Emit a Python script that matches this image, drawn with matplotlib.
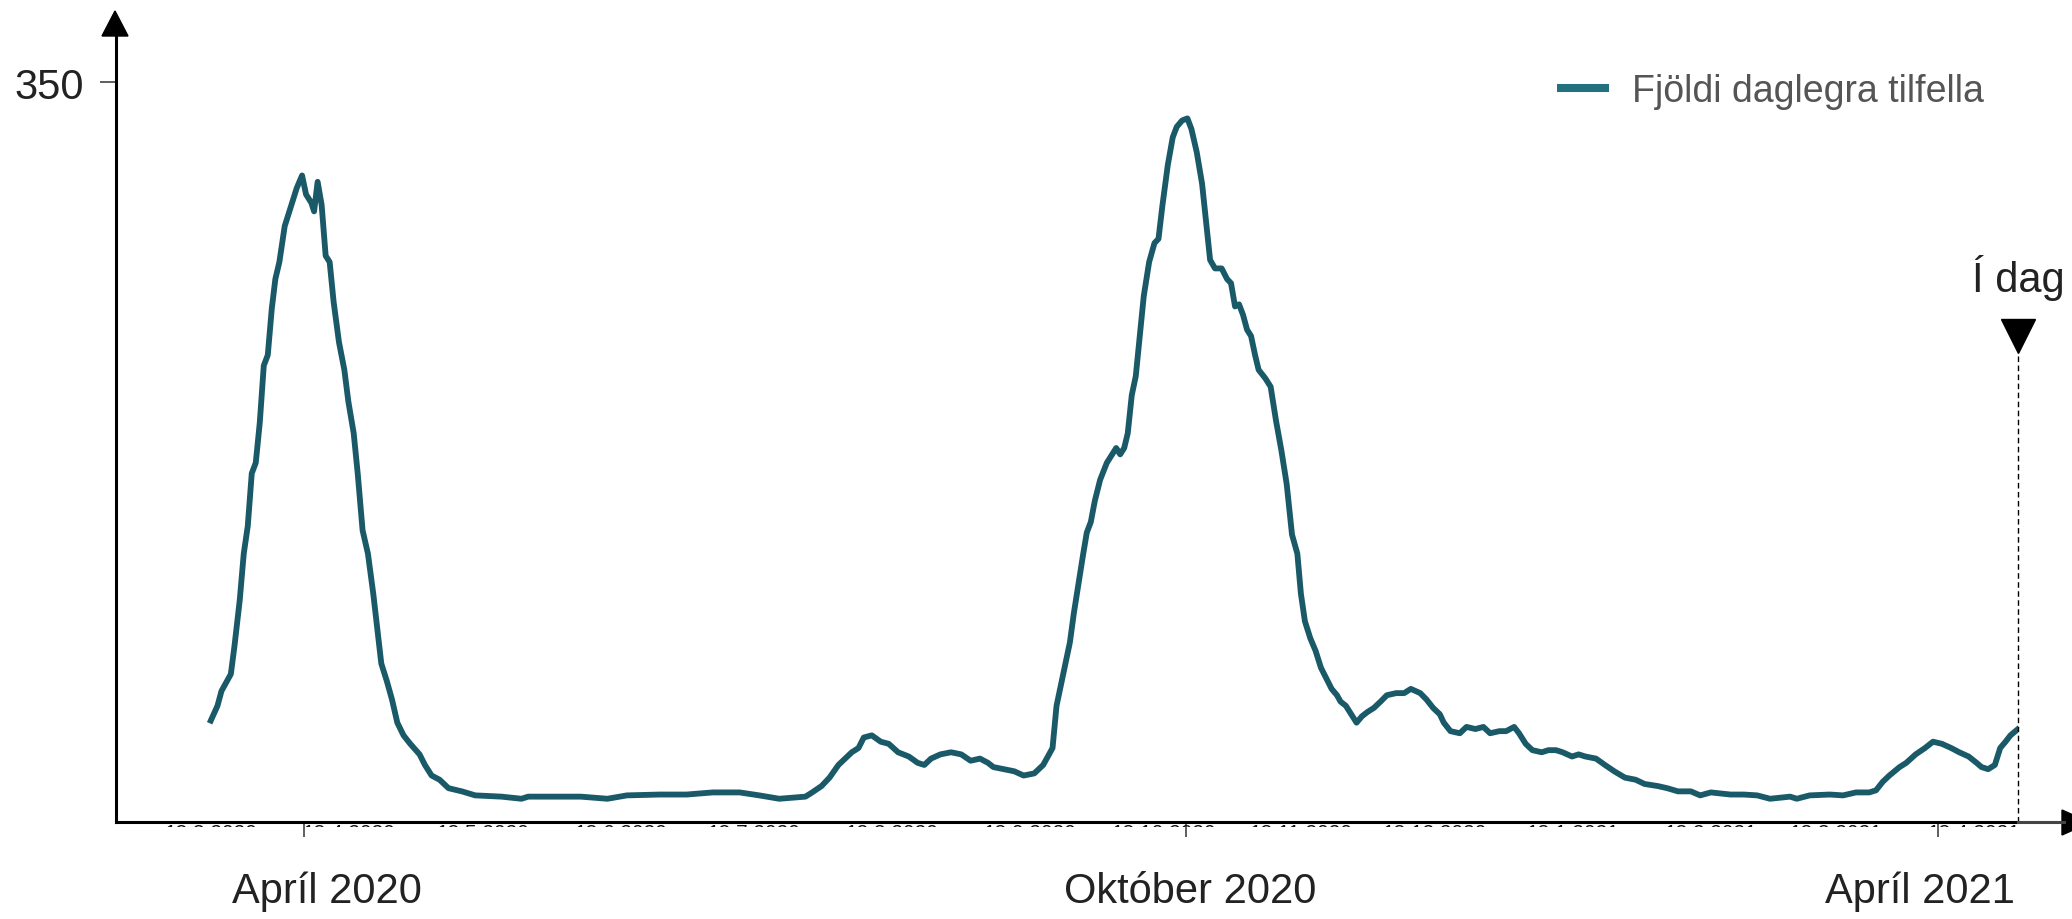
import matplotlib
matplotlib.use('Agg')
import matplotlib.pyplot as plt
import matplotlib.patches as mpatches
from matplotlib.lines import Line2D
from matplotlib.transforms import Bbox, offset_copy
import pandas as pd

plt.rcParams['font.family'] = ['Liberation Sans', 'DejaVu Sans']

# Days since 18.3.2020 and daily number of cases
start = pd.Timestamp('2020-03-18')
days = [0.0, 1.5, 2.4, 4.5, 5.3, 6.5, 7.4, 8.3, 9.2, 10.1, 11.0, 11.9, 12.8, 13.7,
        14.5, 15.4, 16.6, 17.8, 19.3, 20.5, 21.4, 22.6, 23.2, 24.0, 24.9, 25.8,
        26.7, 27.6, 28.8, 30.0, 30.9, 32.1, 33.0, 34.1, 35.3, 36.5, 38.3, 39.5,
        40.7, 41.9, 43.3, 44.8, 46.9, 48.1, 49.6, 51.4, 53.4, 56.4, 59.4, 65.3,
        69.8, 71.3, 77.2, 83.1, 89.1, 93.5, 100.9, 106.9, 112.8, 118.8, 123.2,
        127.7, 133.6, 135.1, 137.2, 139.0, 141.0, 142.5, 144.0, 145.5, 146.7,
        148.5, 150.5, 152.3, 154.4, 156.8, 158.8, 160.3, 161.8, 163.9, 166.3,
        168.6, 170.7, 172.8, 174.6, 175.8, 178.1, 180.5, 182.6, 185.0, 187.0,
        189.1, 190.0, 191.5, 193.0, 193.9, 194.8, 196.0, 196.8, 197.7, 198.6,
        199.8, 201.3, 202.5, 203.4, 204.3, 205.2, 206.0, 206.9, 207.8, 208.7,
        209.6, 210.8, 212.0, 212.9, 213.8, 215.0, 216.1, 217.0, 218.2, 219.4,
        220.3, 221.5, 222.7, 223.6, 224.5, 225.6, 227.1, 228.3, 229.2, 230.1,
        231.0, 231.9, 232.8, 233.7, 234.6, 235.4, 236.9, 238.1, 239.3, 240.5,
        241.7, 242.9, 244.1, 244.9, 245.8, 247.0, 248.2, 249.4, 250.6, 251.8,
        253.0, 253.8, 255.0, 256.2, 257.4, 258.6, 259.8, 261.3, 262.8, 264.2,
        266.3, 268.1, 269.6, 271.7, 273.1, 274.6, 276.1, 277.0, 278.5, 280.6,
        282.1, 284.1, 285.9, 287.4, 289.5, 291.0, 292.8, 293.9, 295.4, 296.9,
        299.0, 300.5, 302.2, 303.7, 305.8, 307.3, 308.8, 311.2, 313.2, 315.3,
        317.7, 320.1, 322.1, 325.1, 327.2, 329.6, 332.5, 334.6, 337.0, 341.4,
        344.4, 347.4, 350.3, 354.8, 356.3, 359.2, 363.7, 366.7, 369.6, 372.6,
        374.1, 375.6, 377.1, 379.4, 380.9, 383.0, 385.1, 386.9, 388.9, 391.0,
        392.8, 394.9, 396.7, 397.8, 399.3, 400.8, 402.0, 403.2, 404.3, 406.0]
cases = [48, 55, 62, 70, 83, 105, 127, 140, 165, 170, 189, 216, 221, 243,
         257, 265, 282, 290, 300, 306, 297, 293, 289, 303, 292, 268,
         265, 246, 227, 214, 199, 184, 165, 138, 127, 108, 75, 67,
         58, 47, 41, 37, 32, 27, 22, 20, 16, 14.5, 12.6, 12,
         11, 12, 12, 12, 11, 12.6, 13, 13, 14, 14, 12.6,
         11, 12, 14, 17, 21, 27, 30, 33, 35, 40,
         41, 38, 37, 33, 31, 28, 27, 30, 32, 33,
         32, 29, 30, 28, 26, 25, 24, 22, 23, 27,
         35, 55, 70, 85, 99, 111, 127, 137, 142, 152,
         162, 170, 174, 177, 174, 177, 184, 202, 211, 230,
         249, 265, 274, 276, 292, 311, 324, 329, 332, 333,
         328, 317, 302, 284, 266, 262, 262, 257, 255, 244,
         245, 240, 233, 230, 221, 214, 210, 206, 190, 176,
         160, 136, 127, 108, 95, 87, 81, 73, 68, 63,
         60, 57, 55, 51, 47, 50, 52, 54, 57, 60,
         61, 61, 63, 61, 58, 54, 51, 47, 43, 42,
         45, 44, 45, 42, 43, 43, 45, 42, 37, 34,
         33, 34, 34, 33, 31, 32, 31, 30, 27, 24,
         21, 20, 18, 17, 16, 14.5, 14.5, 12.6, 14, 13,
         13, 12.6, 11, 12, 11, 12.6, 13, 12.6, 14, 14,
         15, 19, 22, 26, 28, 32, 35, 38, 37, 35,
         33, 31, 28, 26, 25, 27, 35, 38, 41, 44]

tick_dates = ['2020-04-08', '2020-10-23', '2021-04-10']
label_dates = ['2020-04-13', '2020-10-24', '2021-04-06']
big_labels = ['Apríl 2020', 'Október 2020', 'Apríl 2021']
today = pd.Timestamp('2021-04-28')
series_name = 'Fjöldi daglegra tilfella'

dates = start + pd.to_timedelta(days, unit='D')

W, H = 2072, 920
fig = plt.figure(figsize=(W / 100, H / 100), dpi=100)
ax = fig.add_axes([116 / W, 97 / H, (2018 - 116) / W, 786 / H])

ax.plot(dates, cases, color='#1a5a68', lw=4.2, solid_joinstyle='round', zorder=3)

ax.set_xlim(start - pd.Timedelta(days=21.3), today)
ax.set_ylim(0, 372)

for s in ['top', 'right']:
    ax.spines[s].set_visible(False)
for s in ['left', 'bottom']:
    ax.spines[s].set_linewidth(2.2)
    ax.spines[s].set_color('black')

ax.set_yticks([350])
ax.tick_params(axis='y', direction='out', length=11.5, width=1.1, color='#333',
               labelsize=30, labelcolor='#222', pad=11.5)
ax.set_xticks(pd.to_datetime(tick_dates))
ax.set_xticklabels([''] * len(tick_dates))
ax.tick_params(axis='x', direction='out', length=11, width=1.1, color='#333')

# big month labels
xt = ax.get_xaxis_transform()
for d, s in zip(pd.to_datetime(label_dates), big_labels):
    ax.text(d, -0.1018, s, transform=xt, ha='center', va='baseline',
            fontsize=30, color='#222')

# small date labels hidden under the axis (only their tops show)
small_dates = pd.date_range('2020-03-18', periods=14, freq=pd.DateOffset(months=1))
clip = Bbox.from_extents(116, 92, 2018, 97)
tr = offset_copy(ax.transData, fig=fig, y=-1, units='dots')
for d in small_dates:
    t = ax.text(d, 0, f'{d.day}.{d.month}.{d.year}', transform=tr, ha='center',
                va='top', fontsize=15, color='#111', clip_on=True)
    t.set_clip_path(None)
    t.set_clip_box(clip)


def px(x, y):
    return (x / W, 1 - y / H)


# axis arrows
fig.add_artist(mpatches.Polygon([px(102, 37), px(128, 37), px(115, 12)],
                                closed=True, color='black', transform=fig.transFigure))
fig.add_artist(Line2D([2018 / W, 2064 / W], [1 - 823 / H, 1 - 823 / H], lw=2.2,
                      color='#444', transform=fig.transFigure))
fig.add_artist(mpatches.Polygon([px(2062, 811), px(2062, 836), px(2090, 823.5)],
                                closed=True, color='black', transform=fig.transFigure))

# "today" marker
ax.plot([today, today], [0, 0.595], transform=xt, color='black', lw=1.0,
        ls=(0, (4, 2.5)), clip_on=False, zorder=4)
ax.plot([today], [0.6177], transform=xt, marker='v', ms=24, color='black',
        clip_on=False, zorder=4)
ax.text(today, 0.6756, 'Í dag', transform=xt, ha='center', va='baseline',
        fontsize=30, color='#222')

handle = Line2D([], [], color='#23707f', lw=5.8, solid_capstyle='butt')
ax.legend([handle], [series_name], loc='center left',
          bbox_to_anchor=(1557 / W, 1 - 92 / H), bbox_transform=fig.transFigure,
          frameon=False, fontsize=27, labelcolor='#555', handlelength=1.39,
          handletextpad=0.61, borderpad=0, borderaxespad=0)

fig.savefig('out.png', dpi=100)
